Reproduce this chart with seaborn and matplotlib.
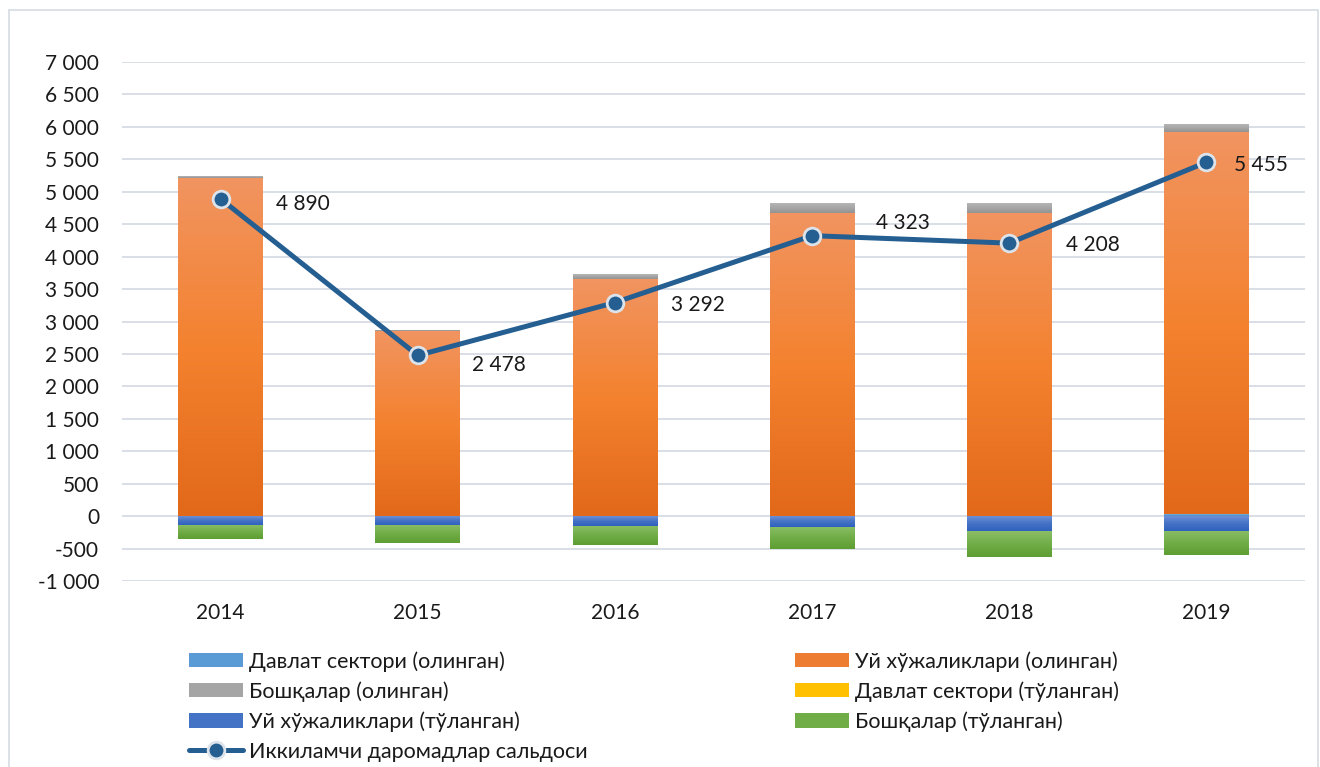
import numpy as np
import pandas as pd
import matplotlib
matplotlib.use('Agg')
import matplotlib.pyplot as plt
import seaborn as sns
from matplotlib.colors import LinearSegmentedColormap
from matplotlib.patches import Patch, Rectangle
from matplotlib.lines import Line2D
from matplotlib.ticker import FuncFormatter, MultipleLocator

years = ['2014', '2015', '2016', '2017', '2018', '2019']

# received (olingan), positive
davlat_ol = [5, 5, 5, 5, 5, 30]
uy_ol = [5213, 2841, 3651, 4666, 4666, 5888]
boshqa_ol = [20, 25, 77, 149, 149, 123]
# paid (tulangan), negative
davlat_tul = [-3, -3, -3, -3, -3, -3]
uy_tul = [-130, -130, -145, -160, -228, -228]
boshqa_tul = [-222, -280, -295, -347, -398, -372]
# balance line
saldo = [4890, 2478, 3292, 4323, 4208, 5455]

names = ['Давлат сектори (олинган)', 'Уй хўжаликлари (олинган)', 'Бошқалар (олинган)',
         'Давлат сектори (тўланган)', 'Уй хўжаликлари (тўланган)', 'Бошқалар (тўланган)']
line_name = 'Иккиламчи даромадлар сальдоси'

base_cols = ['#5B9BD5', '#ED7D31', '#A5A5A5', '#FFC000', '#4472C4', '#70AD47']
grads = [['#7FB3E3', '#5B9BD5', '#4A88C8'],
         ['#F19460', '#F4822F', '#E2691A'],
         ['#B5B5B5', '#A5A5A5', '#939393'],
         ['#FFD04D', '#FFC000', '#F0B400'],
         ['#6D8FD6', '#4472C4', '#2F62C0'],
         ['#8BBE67', '#70AD47', '#5E9E32']]

sns.set_style('white')
plt.rcParams['font.family'] = ['Lato', 'Noto Sans', 'DejaVu Sans']
txt_col = '#1a1a1a'
fs = 15
fs_leg = 15.5

fig = plt.figure(figsize=(13.2, 7.67), dpi=100)
W, H = 1320, 767
ax = fig.add_axes([122 / W, 1 - 581 / H, (1305 - 122) / W, (581 - 62) / H])


def paint(ax, patches, stops):
    # vertical gradient like the Excel fill
    cmap = LinearSegmentedColormap.from_list('g', stops)
    grad = np.linspace(0, 1, 64).reshape(-1, 1)
    for p in patches:
        x0, y0, w, h = p.get_x(), p.get_y(), p.get_width(), p.get_height()
        if h == 0:
            continue
        lo, hi = min(y0, y0 + h), max(y0, y0 + h)
        im = ax.imshow(grad, cmap=cmap, aspect='auto', origin='upper',
                       extent=(x0, x0 + w, lo, hi), zorder=2.1, interpolation='bilinear')
        im.set_clip_path(p)


pos_layers = [davlat_ol, uy_ol, boshqa_ol]
neg_layers = [davlat_tul, uy_tul, boshqa_tul]

bottom = np.zeros(len(years))
for i, vals in enumerate(pos_layers):
    n0 = len(ax.patches)
    sns.barplot(x=years, y=vals, bottom=bottom, color=base_cols[i], saturation=1,
                width=0.43, errorbar=None, linewidth=0, ax=ax, zorder=2)
    paint(ax, ax.patches[n0:], grads[i])
    bottom = bottom + np.array(vals)

bottom = np.zeros(len(years))
for i, vals in enumerate(neg_layers):
    n0 = len(ax.patches)
    sns.barplot(x=years, y=vals, bottom=bottom, color=base_cols[i + 3], saturation=1,
                width=0.43, errorbar=None, linewidth=0, ax=ax, zorder=2)
    paint(ax, ax.patches[n0:], grads[i + 3])
    bottom = bottom + np.array(vals)

line_col = '#255E91'
xs = np.arange(len(years))
ax.plot(xs, saldo, color=line_col, linewidth=3.6, marker='o', markersize=12,
        markerfacecolor=line_col, markeredgecolor='#DDE3EA', markeredgewidth=2,
        zorder=5, solid_capstyle='round')

# label offsets in pixels (right of the marker)
offs = [(55, -5), (54, -10), (56, -2), (64, 13), (57, -2), (28, -3)]
for x, v, (dx, dy) in zip(xs, saldo, offs):
    ax.annotate(f'{v:,}'.replace(',', ' '), (x, v), xytext=(dx, dy),
                textcoords='offset pixels', ha='left', va='center',
                fontsize=fs, color=txt_col, zorder=6)

ax.set_xlim(-0.5, len(years) - 0.5)
ax.set_ylim(-1000, 7000)
ax.yaxis.set_major_locator(MultipleLocator(500))
ax.yaxis.set_major_formatter(FuncFormatter(lambda v, p: f'{int(round(v)):,}'.replace(',', ' ')))
ax.yaxis.grid(True, color='#D9DEE6', linewidth=1.4)
ax.xaxis.grid(False)
ax.set_axisbelow(True)
for s in ax.spines.values():
    s.set_visible(False)
ax.tick_params(axis='y', length=0, pad=16.5, labelsize=fs, labelcolor=txt_col)
ax.tick_params(axis='x', length=0, pad=16, labelsize=fs, labelcolor=txt_col)
ax.set_xlabel('')
ax.set_ylabel('')

# legend: two manual columns
h_patch = [Patch(facecolor=c, edgecolor='none') for c in base_cols]
h_line = Line2D([], [], color=line_col, linewidth=3.6, marker='o', markersize=12,
                markerfacecolor=line_col, markeredgecolor='#DDE3EA', markeredgewidth=2)
leg_kw = dict(frameon=False, fontsize=fs_leg, borderpad=0, borderaxespad=0,
              handlelength=2.5, handleheight=0.65, handletextpad=0.3,
              labelspacing=0.45, loc='upper left', labelcolor=txt_col)
leg1 = fig.legend([h_patch[0], h_patch[2], h_patch[4], h_line],
                  [names[0], names[2], names[4], line_name],
                  bbox_to_anchor=(189 / W, 1 - 651 / H), **leg_kw)
leg2 = fig.legend([h_patch[1], h_patch[3], h_patch[5]],
                  [names[1], names[3], names[5]],
                  bbox_to_anchor=(795 / W, 1 - 651 / H), **leg_kw)

# chart area border
fig.patches.append(Rectangle((9 / W, -0.01), (1318 - 9) / W, 1 - 10 / H + 0.01,
                             transform=fig.transFigure, fill=False,
                             edgecolor='#D9DEE6', linewidth=1.3))

fig.savefig('out.png', dpi=100)
